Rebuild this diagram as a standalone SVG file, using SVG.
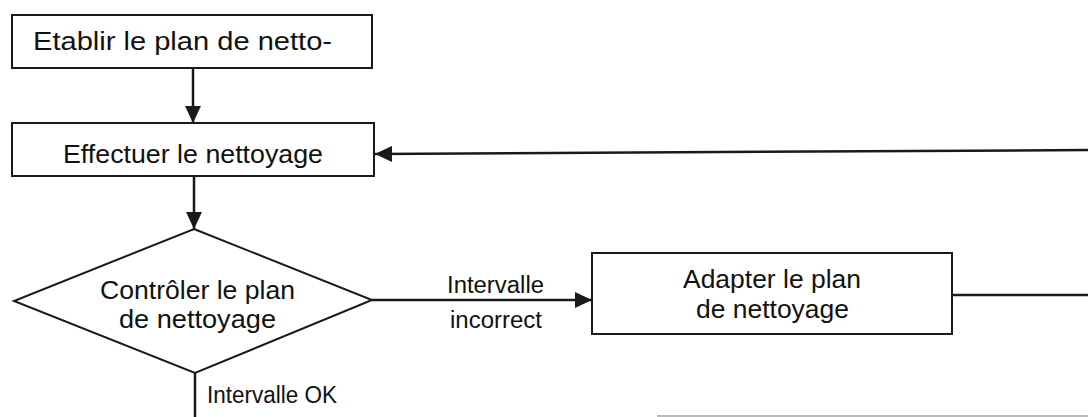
<svg xmlns="http://www.w3.org/2000/svg" width="1088" height="417" viewBox="0 0 1088 417">
<style>
.box{fill:#fff;stroke:#1a1a1a;stroke-width:2}
.t{font-family:"Liberation Sans",Arial,sans-serif;font-size:26px;fill:#111}
.l{font-family:"Liberation Sans",Arial,sans-serif;font-size:23px;fill:#111}
.c{fill:none;stroke:#1a1a1a;stroke-width:2.5}
</style>
<defs>
<marker id="ah" markerUnits="userSpaceOnUse" markerWidth="18" markerHeight="16" refX="17" refY="8" orient="auto">
<path d="M0,0 L17,8 L0,16 Z" fill="#1a1a1a"/>
</marker>
</defs>
<rect width="1088" height="417" fill="#fff"/>
<g id="connectors">
<line class="c" x1="193" y1="68" x2="193" y2="123" marker-end="url(#ah)"/>
<line class="c" x1="194" y1="177" x2="194" y2="229" marker-end="url(#ah)"/>
<line class="c" x1="372" y1="300" x2="592" y2="300" stroke-width="3" marker-end="url(#ah)"/>
<line class="c" x1="1088" y1="150" x2="375" y2="154" marker-end="url(#ah)"/>
<line class="c" x1="952" y1="295" x2="1088" y2="295"/>
<line class="c" x1="195" y1="373" x2="195" y2="417" stroke-width="2"/>
<line x1="657" y1="416" x2="1088" y2="416" stroke="#bbb" stroke-width="2"/>
<text class="l" x="447" y="293" textLength="97" lengthAdjust="spacingAndGlyphs">Intervalle</text>
<text class="l" x="450" y="328" textLength="92" lengthAdjust="spacingAndGlyphs">incorrect</text>
<text class="l" x="207" y="403" textLength="130" lengthAdjust="spacingAndGlyphs">Intervalle OK</text>
</g>
<g id="n1">
<rect class="box" x="12" y="15" width="360" height="53"/>
<text class="t" x="33" y="50" textLength="299" lengthAdjust="spacingAndGlyphs">Etablir le plan de netto-</text>
</g>
<g id="n2">
<rect class="box" x="12" y="123" width="362" height="53"/>
<text class="t" x="63" y="163" textLength="260" lengthAdjust="spacingAndGlyphs">Effectuer le nettoyage</text>
</g>
<g id="n3">
<polygon class="box" points="194,229 372,300 195,373 14,301"/>
<text class="t" x="100" y="299" textLength="195" lengthAdjust="spacingAndGlyphs">Contrôler le plan</text>
<text class="t" x="119" y="328" textLength="157" lengthAdjust="spacingAndGlyphs">de nettoyage</text>
</g>
<g id="n4">
<rect class="box" x="592" y="253" width="360" height="81"/>
<text class="t" x="683" y="288" textLength="178" lengthAdjust="spacingAndGlyphs">Adapter le plan</text>
<text class="t" x="696" y="318" textLength="153" lengthAdjust="spacingAndGlyphs">de nettoyage</text>
</g>
</svg>
